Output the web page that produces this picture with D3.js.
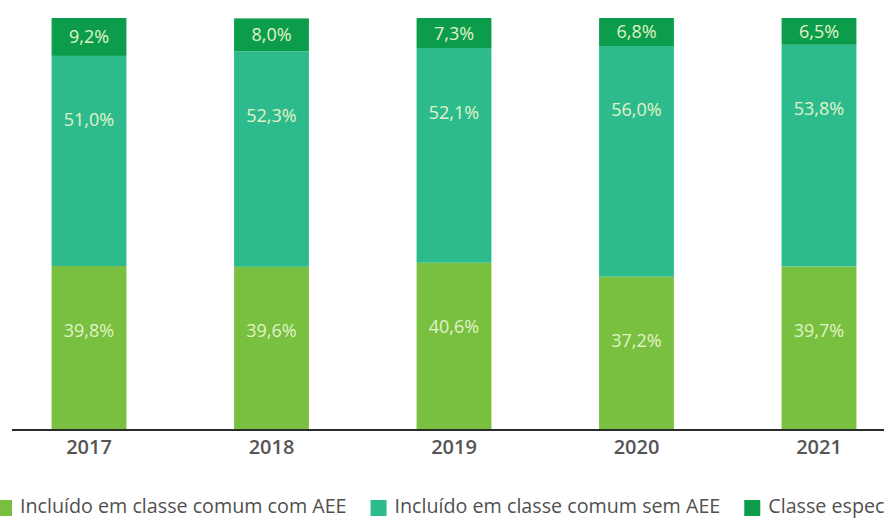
<!DOCTYPE html>
<html>
<head>
<meta charset="utf-8">
<script src="https://cdn.jsdelivr.net/npm/d3@7"></script>
<style>
  html, body { margin: 0; padding: 0; background: #ffffff; }
  svg { display: block; }
</style>
</head>
<body>
<svg id="chart" width="884" height="520"></svg>
<script>
// ---- data ----
const years = ["2017", "2018", "2019", "2020", "2021"];
const comAEE = [39.8, 39.6, 40.6, 37.2, 39.7];
const semAEE = [51.0, 52.3, 52.1, 56.0, 53.8];
const classeEspecial = [9.2, 8.0, 7.3, 6.8, 6.5];
const seriesNames = ["Incluído em classe comum com AEE", "Incluído em classe comum sem AEE", "Classe especial"];
const seriesKeys = ["com", "sem", "esp"];
const colors = ["#79bf40", "#2dbb8d", "#0b9d4b"];

const rows = years.map((y, i) => ({ year: y, com: comAEE[i], sem: semAEE[i], esp: classeEspecial[i] }));

const svg = d3.select("#chart");
const W = 884;

const x = d3.scaleBand().domain(years).range([-2.25, 910.25]).paddingInner(0.59).paddingOuter(0.295);
const y = d3.scaleLinear().domain([0, 100]).range([430, 18]);

const stack = d3.stack().keys(seriesKeys);
const stacked = stack(rows);

const fmt = v => v.toFixed(1).replace(".", ",") + "%";

const layers = svg.selectAll("g.layer").data(stacked).join("g")
  .attr("class", "layer")
  .attr("fill", (d, i) => colors[i]);

layers.selectAll("rect").data(d => d).join("rect")
  .attr("x", d => x(d.data.year))
  .attr("width", x.bandwidth())
  .attr("y", d => y(d[1]))
  .attr("height", d => y(d[0]) - y(d[1]));

// value labels
stacked.forEach((layer, li) => {
  svg.append("g").selectAll("text").data(layer).join("text")
    .attr("x", d => x(d.data.year) + x.bandwidth() / 2)
    .attr("y", d => {
      const top = y(d[1]), bot = y(d[0]);
      const c = (top + bot) / 2;
      return Math.min(c, top + 64);
    })
    .attr("dy", "0.36em")
    .attr("text-anchor", "middle")
    .attr("font-family", "'Open Sans', sans-serif")
    .attr("font-size", 18)
    .attr("fill", "#e0f3c8")
    .text(d => fmt(d[1] - d[0]));
});

// axis
const axis = d3.axisBottom(x).tickSize(0).tickPadding(10);
const gx = svg.append("g").attr("transform", "translate(0,430)").call(axis);
gx.select(".domain").remove();
gx.selectAll("text")
  .attr("font-family", "'Open Sans', sans-serif")
  .attr("font-size", 20)
  .attr("font-weight", 600)
  .attr("fill", "#555555");
svg.append("line")
  .attr("x1", 12).attr("x2", W)
  .attr("y1", 430).attr("y2", 430)
  .attr("stroke", "#2a2a2a").attr("stroke-width", 2);

// legend
const legend = svg.append("g");
let lx = -4;
seriesNames.forEach((name, i) => {
  const g = legend.append("g").attr("transform", `translate(${lx},0)`);
  g.append("rect").attr("x", 0).attr("y", 500).attr("width", 16).attr("height", 16).attr("fill", colors[i]);
  const t = g.append("text")
    .attr("x", 24).attr("y", 506).attr("dy", "0.35em")
    .attr("font-family", "'Open Sans', sans-serif")
    .attr("font-size", 19.7)
    .attr("fill", "#505050")
    .text(name);
  lx += 24 + t.node().getComputedTextLength() + 24;
});
</script>
</body>
</html>
